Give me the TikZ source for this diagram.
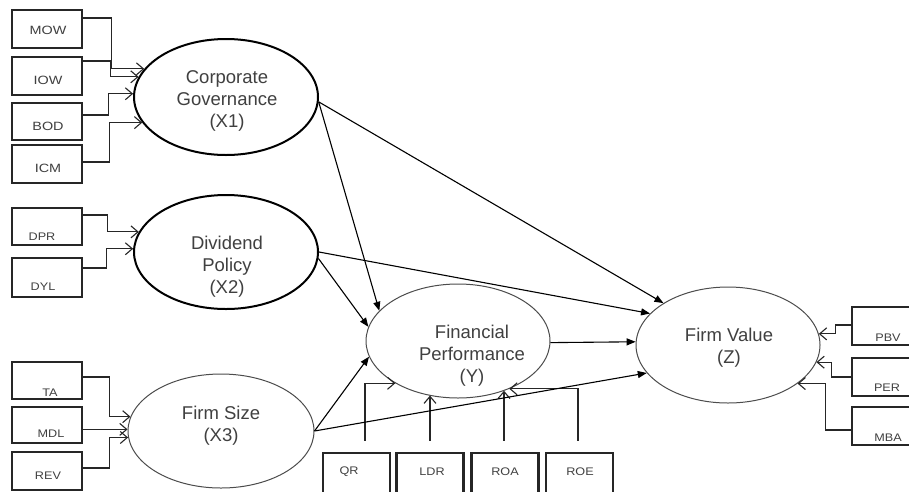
\documentclass[tikz,border=0pt]{standalone}
\usepackage{fontspec}
\setmainfont{Liberation Sans}
\usetikzlibrary{shapes.geometric,arrows.meta}
\begin{document}
\begin{tikzpicture}[x=1pt,y=-1pt,
  lbox/.style={draw=black!85, line width=2.2pt, rectangle, inner sep=0pt, minimum width=70pt},
  rbox/.style={draw=black!85, line width=2.2pt, rectangle, inner sep=0pt, minimum width=60pt, minimum height=38pt},
  bbox/.style={draw=black!85, line width=2.2pt, rectangle, inner sep=0pt, minimum width=67pt, minimum height=42pt},
  lbl/.style={inner sep=0pt, text=black!75, font=\fontsize{11}{13}\selectfont, xscale=1.15, transform shape},
  lblbig/.style={inner sep=0pt, text=black!75, font=\fontsize{12}{14}\selectfont, xscale=1.2, transform shape},
  bigell/.style={draw=black, line width=2pt, ellipse, inner sep=0pt},
  smallell/.style={draw=black!70, line width=1pt, ellipse, inner sep=0pt},
  etext/.style={align=center, inner sep=0pt, text=black!75, font=\fontsize{18.5}{22}\selectfont},
  inarr/.style={draw=black!85, line width=1.1pt, -{Straight Barb[length=7pt,width=12pt]}},
  parr/.style={draw=black, line width=1.1pt, -{Triangle[length=9pt,width=7pt]}}
]
\useasboundingbox (0,0) rectangle (909,491);
\clip (0,0) rectangle (909,491);
\fill[white] (0,0) rectangle (909,491);

% latent ellipses
\node[bigell, minimum width=184pt, minimum height=116pt] (cg) at (226,97) {};
\node[bigell, minimum width=184pt, minimum height=114pt] (dp) at (226,252) {};
\node[smallell, minimum width=186pt, minimum height=114pt] (fs) at (221,431) {};
\node[smallell, minimum width=184pt, minimum height=114pt] (fp) at (458,341) {};
\node[smallell, minimum width=184pt, minimum height=116pt] (fv) at (728,345) {};

\node[etext] (cgt) at (227,101) {Corporate\\Governance\\(X1)};
\node[etext] (dpt) at (227,267) {Dividend\\Policy\\(X2)};
\node[etext] (fst) at (221,426) {Firm Size\\(X3)};
\node[etext] (fpt) at (472,356) {Financial\\Performance\\(Y)};
\node[etext] (fvt) at (729,348) {Firm Value\\(Z)};

% left indicator boxes
\node[lbox, minimum height=38pt] (mow) at (47,29) {};
\node[lbox, minimum height=38pt] (iow) at (47,76) {};
\node[lbox, minimum height=37pt] (bod) at (47,121.5) {};
\node[lbox, minimum height=38pt] (icm) at (47,164) {};
\node[lbox, minimum height=37pt] (dpr) at (47,226.5) {};
\node[lbox, minimum height=39pt] (dyl) at (47,277.5) {};
\node[lbox, minimum height=37pt] (ta) at (47,380.5) {};
\node[lbox, minimum height=36pt] (mdl) at (47,425) {};
\node[lbox, minimum height=38pt] (rev) at (47,471) {};

\node[lblbig] (mowl) at (48,30) {MOW};
\node[lblbig] (iowl) at (48,80) {IOW};
\node[lblbig] (bodl) at (48,126) {BOD};
\node[lblbig] (icml) at (48,168) {ICM};
\node[lbl] (dprl) at (42,237) {DPR};
\node[lbl] (dyll) at (43,287) {DYL};
\node[lbl] (tal) at (50,393) {TA};
\node[lbl] (mdll) at (51,434) {MDL};
\node[lbl] (revl) at (48,476) {REV};

% right indicator boxes
\node[rbox] (pbv) at (882,326) {};
\node[rbox] (per) at (882,377) {};
\node[rbox] (mba) at (882,426) {};
\node[lbl] (pbvl) at (888,338) {PBV};
\node[lbl] (perl) at (887,388) {PER};
\node[lbl] (mbal) at (888,438) {MBA};

% bottom indicator boxes
\node[bbox] (qr) at (356.5,474) {};
\node[bbox] (ldr) at (430,474) {};
\node[bbox] (roa) at (505,474) {};
\node[bbox] (roe) at (579.5,474) {};
\node[lbl] (qrl) at (349,472) {QR};
\node[lbl] (ldrl) at (432,472) {LDR};
\node[lbl] (roal) at (505,472) {ROA};
\node[lbl] (roel) at (580,472) {ROE};

% indicator connectors
\draw[inarr] ([yshift=11pt]mow.east) -- ++(28,0) |- (cg.161.6);
\draw[inarr] ([yshift=15pt]iow.east) -- ++(27,0) |- (cg.167.7);
\draw[inarr] ([yshift=6.5pt]bod.east) -- ++(25,0) |- (cg.178.7);
\draw[inarr] ([yshift=2pt]icm.east) -- ++(26,0) |- (cg.197.6);
\draw[inarr] ([yshift=11.5pt]dpr.east) -- ++(24,0) |- (dp.167.6);
\draw[inarr] ([yshift=9.5pt]dyl.east) -- ++(23,0) |- (dp.178.8);
\draw[inarr] ([yshift=3.5pt]ta.east) -- ++(26,0) |- (fs.171.2);
\draw[inarr] (fs.179.4 -| mdl.east) -- (fs.179.4);
\draw[inarr] ([yshift=3pt]rev.east) -- ++(26,0) |- (fs.184.4);

\draw[inarr] ([yshift=1pt]pbv.west) -- ++(-15,0) |- (fv.7.6);
\draw[inarr] (per.west) -- ++(-19,0) |- (fv.349.1);
\draw[inarr] ([yshift=-4pt]mba.west) -- ++(-25,0) |- (fv.331.3);

\draw[inarr] ([xshift=8.5pt,yshift=11pt]qr.north) |- (fp.214);
\draw[inarr] ([yshift=11pt]ldr.north) -- (ldr.north |- fp.242.7);
\draw[inarr] ([xshift=-1pt,yshift=11pt]roa.north) -- ([xshift=-1pt]roa.north |- fp.313);
\draw[inarr] ([xshift=-1.5pt,yshift=11pt]roe.north) |- (fp.317.9);

% structural paths
\draw[parr] (cg.-3) -- (fp.159);
\draw[parr] (cg.-3) -- (fv.147.7);
\draw[parr] (dp.0) -- (fv.158.3);
\draw[parr] (dp.-4) -- (fp.171.8);
\draw[parr] (fs.0) -- (fp.190.9);
\draw[parr] (fs.0) -- (fv.199.4);
\draw[parr] (fp.-1.5) -- (fv.178.5);
\end{tikzpicture}
\end{document}
